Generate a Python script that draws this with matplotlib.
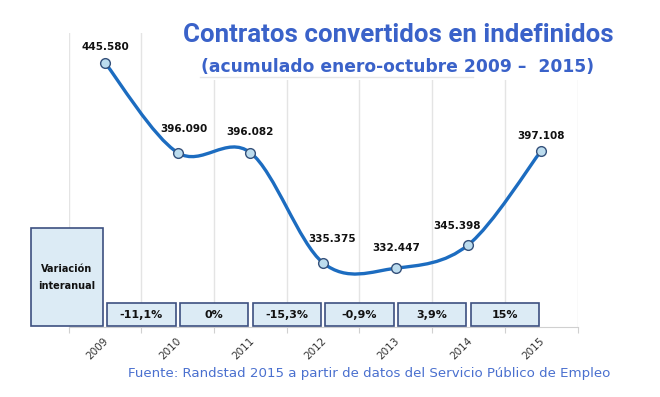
import numpy as np
import matplotlib
matplotlib.use("Agg")
import matplotlib.pyplot as plt
from matplotlib.path import Path
from matplotlib.patches import PathPatch, Rectangle

# data (miles de contratos, acumulado enero-octubre)
years = ["2009", "2010", "2011", "2012", "2013", "2014", "2015"]
values = [445.580, 396.090, 396.082, 335.375, 332.447, 345.398, 397.108]
value_labels = ["445.580", "396.090", "396.082", "335.375", "332.447", "345.398", "397.108"]
variation = ["-11,1%", "0%", "-15,3%", "-0,9%", "3,9%", "15%"]

title = "Contratos convertidos en indefinidos"
subtitle = "(acumulado enero-octubre 2009 \u2013  2015)"
source = "Fuente: Randstad 2015 a partir de datos del Servicio P\u00fablico de Empleo"

# label nudges in pixels (labels were moved by hand in the original)
label_dx = [0, 6, 0, 9, 0, -11, 0]
label_dy = [16, 24, 21, 24, 20, 19, 15]

line_color = "#1c6cc0"
box_face = "#dcebf5"
box_edge = "#3d5080"
title_color = "#3a62c9"

fig = plt.figure(figsize=(6.6, 3.97), dpi=100)
ax = fig.add_axes([0.104, 0.176, 0.771, 0.741])

x = np.arange(len(values))
y = np.array(values)

# smoothed line (excel-like bezier through the points)
pts = np.column_stack([x, y])
ext = np.vstack([pts[0], pts, pts[-1]])
verts = [tuple(pts[0])]
codes = [Path.MOVETO]
for i in range(len(pts) - 1):
    p0, p1, p2, p3 = ext[i], ext[i + 1], ext[i + 2], ext[i + 3]
    c1 = p1 + (p2 - p0) / 6
    c2 = p2 - (p3 - p1) / 6
    verts += [tuple(c1), tuple(c2), tuple(p2)]
    codes += [Path.CURVE4] * 3
ax.add_patch(PathPatch(Path(verts, codes), facecolor="none", edgecolor=line_color,
                       lw=2.4, capstyle="round", zorder=3))
ax.plot(x, y, ls="none", marker="o", ms=7, mfc="#bcdcee", mec="#34507a", mew=1.0, zorder=4)

for xi, yi, lab, dx, dy in zip(x, y, value_labels, label_dx, label_dy):
    ax.annotate(lab, (xi, yi), xytext=(dx, dy), textcoords="offset pixels",
                ha="center", va="center", fontsize=7.5, fontweight="bold", color="#111111")

ax.set_xlim(-0.5, len(values) - 0.5)
ax.set_ylim(300, 462)

# vertical gridlines between categories
for g in np.arange(-0.5, len(values), 1.0):
    ax.axvline(g, color="#e4e4e4", lw=1, zorder=0)

for s in ["top", "left", "right"]:
    ax.spines[s].set_visible(False)
ax.spines["bottom"].set_color("#d0d0d0")
ax.set_yticks([])
ax.set_xticks(np.arange(-0.5, len(values), 1.0))
ax.set_xticklabels([])
ax.tick_params(axis="x", length=4, color="#d0d0d0")

for xi, lab in zip(x, years):
    ax.text(xi - 0.02, -0.03, lab, transform=ax.get_xaxis_transform(), rotation=45,
            rotation_mode="anchor", ha="right", va="top", fontsize=7.5, color="#333333")

# variation boxes
ax.add_patch(Rectangle((-1.02, 300.5), 0.99, 54, facecolor=box_face, edgecolor=box_edge,
                       lw=1.2, clip_on=False, zorder=5))
ax.text(-0.525, 327.5, "Variaci\u00f3n\ninteranual", ha="center", va="center", fontsize=7,
        fontweight="bold", color="#111111", linespacing=1.9, zorder=6)
for i, v in enumerate(variation):
    ax.add_patch(Rectangle((i + 0.03, 300.5), 0.94, 12.7, facecolor=box_face, edgecolor=box_edge,
                           lw=1.2, clip_on=False, zorder=5))
    ax.text(i + 0.5, 306.9, v, ha="center", va="center", fontsize=8, fontweight="bold",
            color="#111111", zorder=6)

# title area (covers the gridlines)
fig.patches.append(Rectangle((192 / 660, 1 - 80 / 397), 430 / 660, 80 / 397,
                             transform=fig.transFigure, facecolor="white", edgecolor="none",
                             zorder=2))
fig.add_artist(plt.Line2D([200 / 660, 473 / 660], [1 - 77 / 397] * 2, color="#e6e6e6", lw=1, zorder=3))
fig.text(398 / 660, 1 - 35 / 397, title, ha="center", va="center", fontsize=18.6,
         fontweight="bold", color=title_color, family="Roboto", zorder=4)
fig.text(398 / 660, 1 - 67 / 397, subtitle, ha="center", va="center", fontsize=12.3,
         fontweight="bold", color=title_color, family="DejaVu Sans", zorder=4)
fig.text(369 / 660, 1 - 373 / 397, source, ha="center", va="center", fontsize=9.6,
         color="#4a70cf", family="DejaVu Sans")

fig.savefig("out.png", dpi=100)
